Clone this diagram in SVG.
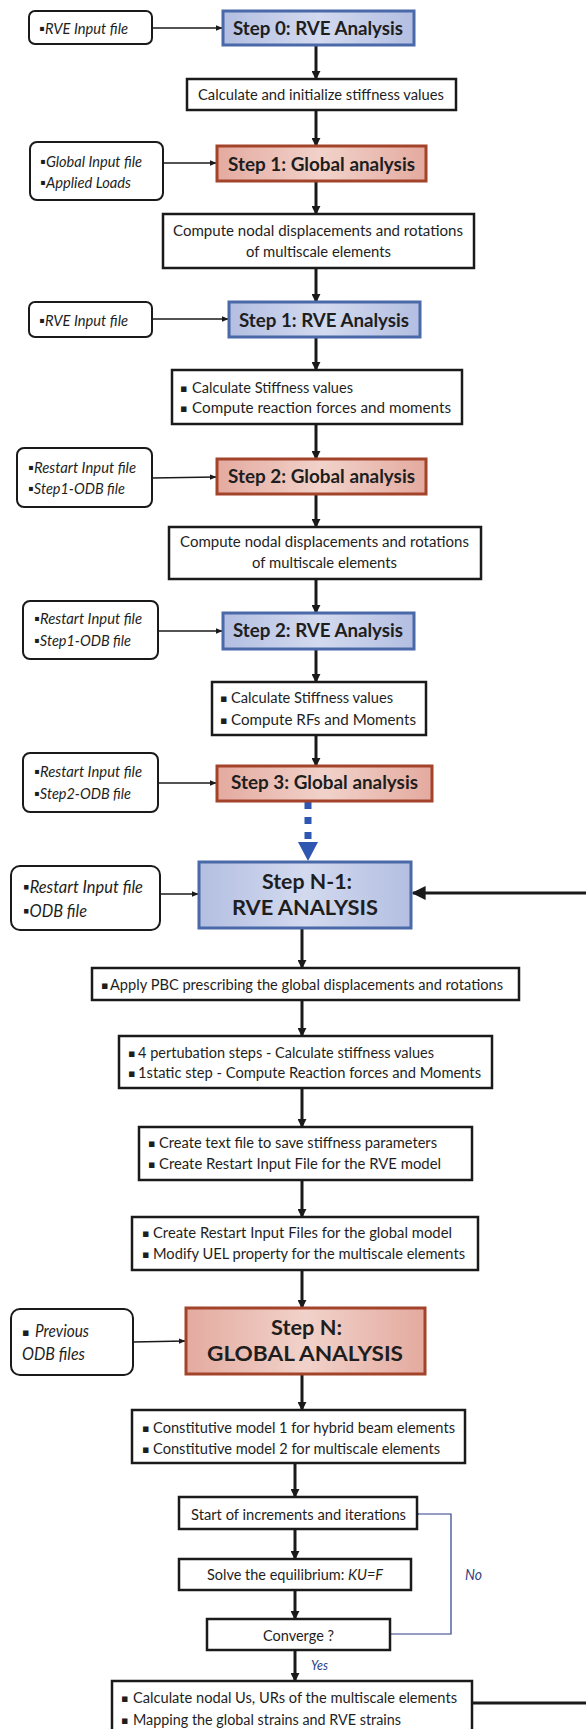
<svg xmlns="http://www.w3.org/2000/svg" width="586" height="1729" viewBox="0 0 586 1729">
<defs>
<linearGradient id="gBlue" x1="0" y1="0" x2="1" y2="0">
<stop offset="0" stop-color="#b3bee1"/><stop offset="0.5" stop-color="#d3daef"/><stop offset="1" stop-color="#b3bee1"/>
</linearGradient>
<linearGradient id="gRed" x1="0" y1="0" x2="1" y2="0">
<stop offset="0" stop-color="#e4aa9f"/><stop offset="0.5" stop-color="#f1d2ca"/><stop offset="1" stop-color="#e4aa9f"/>
</linearGradient>
<marker id="ah" viewBox="0 0 10 10" refX="9" refY="5" markerWidth="9" markerHeight="9" markerUnits="userSpaceOnUse" orient="auto">
<path d="M0,0 L10,5 L0,10 z" fill="#1a1a1a"/>
</marker>
<marker id="ahs" viewBox="0 0 10 10" refX="9" refY="5" markerWidth="7" markerHeight="7" markerUnits="userSpaceOnUse" orient="auto">
<path d="M0,1 L10,5 L0,9 z" fill="#1a1a1a"/>
</marker>
<marker id="ahb" viewBox="0 0 10 10" refX="9" refY="5" markerWidth="14" markerHeight="14" markerUnits="userSpaceOnUse" orient="auto">
<path d="M0,0 L10,5 L0,10 z" fill="#1a1a1a"/>
</marker>
<marker id="ahn" viewBox="0 0 10 10" refX="1" refY="5" markerWidth="10" markerHeight="10" markerUnits="userSpaceOnUse" orient="auto">
<path d="M10,0 L1,5 L10,10" fill="none" stroke="#2e3f85" stroke-width="1.2"/>
</marker>
</defs>
<style>
text{font-family:Lato,"Liberation Sans",sans-serif;fill:#1e1e1e}
.in{fill:#fff;stroke:#1a1a1a;stroke-width:2}
.pb{fill:#fff;stroke:#1a1a1a;stroke-width:2.5}
.sb{fill:url(#gBlue);stroke:#4a69a8;stroke-width:3}
.sr{fill:url(#gRed);stroke:#a3432a;stroke-width:3}
.it{font-style:italic;font-size:15px}
.it2{font-style:italic;font-size:17px}
.t{font-size:14.5px}
.st{font-weight:bold;font-size:19px}
.st2{font-weight:bold;font-size:21px}
.bul{font-family:"DejaVu Sans",sans-serif;font-size:11px}
.th{stroke:#1a1a1a;stroke-width:3;fill:none}
.tn{stroke:#1a1a1a;stroke-width:1.5;fill:none}
.nv{fill:#2e3f85;font-style:italic}
</style>

<g id="connectors">
<line class="th" x1="316" y1="45" x2="316" y2="79" marker-end="url(#ah)"/>
<line class="th" x1="316" y1="110" x2="316" y2="146" marker-end="url(#ah)"/>
<line class="th" x1="316" y1="181" x2="316" y2="214" marker-end="url(#ah)"/>
<line class="th" x1="316" y1="268" x2="316" y2="302" marker-end="url(#ah)"/>
<line class="th" x1="316" y1="337" x2="316" y2="370" marker-end="url(#ah)"/>
<line class="th" x1="316" y1="424" x2="316" y2="459" marker-end="url(#ah)"/>
<line class="th" x1="316" y1="494" x2="316" y2="527" marker-end="url(#ah)"/>
<line class="th" x1="316" y1="579" x2="316" y2="613" marker-end="url(#ah)"/>
<line class="th" x1="316" y1="649" x2="316" y2="682" marker-end="url(#ah)"/>
<line class="th" x1="316" y1="735" x2="316" y2="766" marker-end="url(#ah)"/>
<line x1="308" y1="802" x2="308" y2="842" stroke="#2f56b0" stroke-width="7" stroke-dasharray="7 8"/>
<polygon points="298,842 318,842 308,861" fill="#2f56b0"/>
<line class="th" x1="302" y1="928" x2="302" y2="968" marker-end="url(#ah)"/>
<line class="th" x1="302" y1="1000" x2="302" y2="1036" marker-end="url(#ah)"/>
<line class="th" x1="302" y1="1088" x2="302" y2="1127" marker-end="url(#ah)"/>
<line class="th" x1="302" y1="1180" x2="302" y2="1217" marker-end="url(#ah)"/>
<line class="th" x1="302" y1="1270" x2="302" y2="1308" marker-end="url(#ah)"/>
<line class="th" x1="302" y1="1374" x2="302" y2="1410" marker-end="url(#ah)"/>
<line class="th" x1="295" y1="1463" x2="295" y2="1497" marker-end="url(#ah)"/>
<line class="th" x1="295" y1="1529" x2="295" y2="1559" marker-end="url(#ah)"/>
<line class="th" x1="295" y1="1590" x2="295" y2="1619" marker-end="url(#ah)"/>
<line class="th" x1="295" y1="1650" x2="295" y2="1681" marker-end="url(#ah)"/>
<line class="tn" x1="152" y1="28" x2="222" y2="28" marker-end="url(#ahs)"/>
<line class="tn" x1="163" y1="163" x2="216" y2="163" marker-end="url(#ahs)"/>
<line class="tn" x1="152" y1="319" x2="228" y2="319" marker-end="url(#ahs)"/>
<line class="tn" x1="152" y1="478" x2="216" y2="477" marker-end="url(#ahs)"/>
<line class="tn" x1="158" y1="631" x2="222" y2="631" marker-end="url(#ahs)"/>
<line class="tn" x1="158" y1="783" x2="216" y2="783" marker-end="url(#ahs)"/>
<line class="tn" x1="160" y1="894" x2="198" y2="894" marker-end="url(#ahs)"/>
<line class="tn" x1="133" y1="1342" x2="185" y2="1341" marker-end="url(#ahs)"/>
<line class="th" x1="586" y1="893" x2="413" y2="893" marker-end="url(#ahb)"/>
<line class="th" x1="472" y1="1703" x2="586" y2="1703"/>
<polyline points="390,1634 451,1634 451,1514 418,1514" fill="none" stroke="#2e3f85" stroke-width="1.2" marker-end="url(#ahn)"/>
<text class="nv" x="465" y="1580" font-size="15" textLength="17" lengthAdjust="spacingAndGlyphs">No</text>
<text class="nv" x="311" y="1670" font-size="14" textLength="17" lengthAdjust="spacingAndGlyphs">Yes</text>
</g>

<g id="in1"><rect class="in" x="29" y="11" width="123" height="33" rx="6"/>
<text class="it" x="39" y="34" textLength="89" lengthAdjust="spacingAndGlyphs">▪RVE Input file</text></g>
<g id="s0"><rect class="sb" x="223" y="11" width="191" height="34"/>
<text class="st" x="233" y="35" textLength="170" lengthAdjust="spacingAndGlyphs">Step 0: RVE Analysis</text></g>
<g id="p1"><rect class="pb" x="187" y="79" width="269" height="31"/>
<text class="t" x="198" y="100" textLength="246" lengthAdjust="spacingAndGlyphs">Calculate and initialize stiffness values</text></g>

<g id="in2"><rect class="in" x="30" y="142" width="133" height="58" rx="7"/>
<text class="it" x="40" y="167" textLength="102" lengthAdjust="spacingAndGlyphs">▪Global Input file</text>
<text class="it" x="40" y="188" textLength="91" lengthAdjust="spacingAndGlyphs">▪Applied Loads</text></g>
<g id="s1g"><rect class="sr" x="217" y="146" width="209" height="35"/>
<text class="st" x="228" y="171" textLength="187" lengthAdjust="spacingAndGlyphs">Step 1: Global analysis</text></g>
<g id="p2"><rect class="pb" x="163" y="214" width="311" height="54"/>
<text class="t" x="173" y="236" textLength="290" lengthAdjust="spacingAndGlyphs">Compute nodal displacements and rotations</text>
<text class="t" x="246" y="257" textLength="145" lengthAdjust="spacingAndGlyphs">of multiscale elements</text></g>

<g id="in3"><rect class="in" x="29" y="302" width="123" height="35" rx="6"/>
<text class="it" x="39" y="326" textLength="89" lengthAdjust="spacingAndGlyphs">▪RVE Input file</text></g>
<g id="s1r"><rect class="sb" x="229" y="302" width="191" height="35"/>
<text class="st" x="239" y="327" textLength="170" lengthAdjust="spacingAndGlyphs">Step 1: RVE Analysis</text></g>
<g id="p3"><rect class="pb" x="172" y="370" width="290" height="54"/>
<text class="bul" x="180" y="392">▪</text><text class="t" x="192" y="393" textLength="161" lengthAdjust="spacingAndGlyphs">Calculate Stiffness values</text>
<text class="bul" x="180" y="412">▪</text><text class="t" x="192" y="413" textLength="259" lengthAdjust="spacingAndGlyphs">Compute reaction forces and moments</text></g>

<g id="in4"><rect class="in" x="17" y="448" width="135" height="59" rx="7"/>
<text class="it" x="28" y="473" textLength="108" lengthAdjust="spacingAndGlyphs">▪Restart Input file</text>
<text class="it" x="28" y="494" textLength="97" lengthAdjust="spacingAndGlyphs">▪Step1-ODB file</text></g>
<g id="s2g"><rect class="sr" x="217" y="459" width="209" height="35"/>
<text class="st" x="228" y="483" textLength="187" lengthAdjust="spacingAndGlyphs">Step 2: Global analysis</text></g>
<g id="p4"><rect class="pb" x="169" y="527" width="312" height="52"/>
<text class="t" x="180" y="547" textLength="289" lengthAdjust="spacingAndGlyphs">Compute nodal displacements and rotations</text>
<text class="t" x="252" y="568" textLength="145" lengthAdjust="spacingAndGlyphs">of multiscale elements</text></g>

<g id="in5"><rect class="in" x="23" y="601" width="135" height="58" rx="7"/>
<text class="it" x="34" y="624" textLength="108" lengthAdjust="spacingAndGlyphs">▪Restart Input file</text>
<text class="it" x="34" y="646" textLength="97" lengthAdjust="spacingAndGlyphs">▪Step1-ODB file</text></g>
<g id="s2r"><rect class="sb" x="223" y="613" width="191" height="36"/>
<text class="st" x="233" y="637" textLength="170" lengthAdjust="spacingAndGlyphs">Step 2: RVE Analysis</text></g>
<g id="p5"><rect class="pb" x="212" y="682" width="214" height="53"/>
<text class="bul" x="220" y="702">▪</text><text class="t" x="231" y="703" textLength="162" lengthAdjust="spacingAndGlyphs">Calculate Stiffness values</text>
<text class="bul" x="220" y="724">▪</text><text class="t" x="231" y="725" textLength="185" lengthAdjust="spacingAndGlyphs">Compute RFs and Moments</text></g>

<g id="in6"><rect class="in" x="23" y="753" width="135" height="59" rx="7"/>
<text class="it" x="34" y="777" textLength="108" lengthAdjust="spacingAndGlyphs">▪Restart Input file</text>
<text class="it" x="34" y="799" textLength="97" lengthAdjust="spacingAndGlyphs">▪Step2-ODB file</text></g>
<g id="s3g"><rect class="sr" x="217" y="766" width="215" height="35"/>
<text class="st" x="231" y="789" textLength="187" lengthAdjust="spacingAndGlyphs">Step 3: Global analysis</text></g>

<g id="in7"><rect class="in" x="11" y="866" width="149" height="64" rx="9"/>
<text class="it2" x="23" y="893" textLength="120" lengthAdjust="spacingAndGlyphs">▪Restart Input file</text>
<text class="it2" x="23" y="917" textLength="64" lengthAdjust="spacingAndGlyphs">▪ODB file</text></g>
<g id="sn1"><rect class="sb" x="199" y="862" width="212" height="66"/>
<text class="st2" x="262" y="889" textLength="90" lengthAdjust="spacingAndGlyphs">Step N-1:</text>
<text class="st2" x="232" y="915" textLength="146" lengthAdjust="spacingAndGlyphs">RVE ANALYSIS</text></g>
<g id="p6"><rect class="pb" x="92" y="968" width="427" height="32"/>
<text class="bul" x="101" y="989">▪</text><text class="t" x="110" y="990" textLength="393" lengthAdjust="spacingAndGlyphs">Apply PBC prescribing the global displacements and rotations</text></g>
<g id="p7"><rect class="pb" x="119" y="1036" width="373" height="52"/>
<text class="bul" x="128" y="1057">▪</text><text class="t" x="138" y="1058" textLength="296" lengthAdjust="spacingAndGlyphs">4 pertubation steps - Calculate stiffness values</text>
<text class="bul" x="128" y="1077">▪</text><text class="t" x="138" y="1078" textLength="343" lengthAdjust="spacingAndGlyphs">1static step - Compute Reaction forces and Moments</text></g>
<g id="p8"><rect class="pb" x="139" y="1127" width="333" height="53"/>
<text class="bul" x="148" y="1147">▪</text><text class="t" x="159" y="1148" textLength="278" lengthAdjust="spacingAndGlyphs">Create text file to save stiffness parameters</text>
<text class="bul" x="148" y="1168">▪</text><text class="t" x="159" y="1169" textLength="282" lengthAdjust="spacingAndGlyphs">Create Restart Input File for the RVE model</text></g>
<g id="p9"><rect class="pb" x="132" y="1217" width="346" height="53"/>
<text class="bul" x="142" y="1237">▪</text><text class="t" x="153" y="1238" textLength="299" lengthAdjust="spacingAndGlyphs">Create Restart Input Files for the global model</text>
<text class="bul" x="142" y="1258">▪</text><text class="t" x="153" y="1259" textLength="312" lengthAdjust="spacingAndGlyphs">Modify UEL property for the multiscale elements</text></g>

<g id="in8"><rect class="in" x="11" y="1309" width="122" height="66" rx="9"/>
<text class="bul" x="22" y="1336" font-size="12">▪</text><text class="it2" x="35" y="1337" textLength="54" lengthAdjust="spacingAndGlyphs">Previous</text>
<text class="it2" x="22" y="1360" textLength="63" lengthAdjust="spacingAndGlyphs">ODB files</text></g>
<g id="sn"><rect class="sr" x="186" y="1308" width="239" height="66"/>
<text class="st2" x="271" y="1335" textLength="71" lengthAdjust="spacingAndGlyphs">Step N:</text>
<text class="st2" x="207" y="1361" textLength="196" lengthAdjust="spacingAndGlyphs">GLOBAL ANALYSIS</text></g>
<g id="p10"><rect class="pb" x="132" y="1410" width="333" height="53"/>
<text class="bul" x="142" y="1432">▪</text><text class="t" x="153" y="1433" textLength="302" lengthAdjust="spacingAndGlyphs">Constitutive model 1 for hybrid beam elements</text>
<text class="bul" x="142" y="1453">▪</text><text class="t" x="153" y="1454" textLength="287" lengthAdjust="spacingAndGlyphs">Constitutive model 2 for multiscale elements</text></g>
<g id="p11"><rect class="pb" x="179" y="1497" width="238" height="32"/>
<text class="t" x="191" y="1520" textLength="215" lengthAdjust="spacingAndGlyphs">Start of increments and iterations</text></g>
<g id="p12"><rect class="pb" x="179" y="1559" width="232" height="31"/>
<text class="t" x="207" y="1580" textLength="176" lengthAdjust="spacingAndGlyphs">Solve the equilibrium: <tspan font-style="italic">KU=F</tspan></text></g>
<g id="p13"><rect class="pb" x="207" y="1619" width="183" height="31"/>
<text class="t" x="263" y="1641" textLength="71" lengthAdjust="spacingAndGlyphs">Converge ?</text></g>
<g id="p14"><rect class="pb" x="112" y="1681" width="360" height="60"/>
<text class="bul" x="121" y="1702">▪</text><text class="t" x="133" y="1703" textLength="324" lengthAdjust="spacingAndGlyphs">Calculate nodal Us, URs of the multiscale elements</text>
<text class="bul" x="121" y="1724">▪</text><text class="t" x="133" y="1725" textLength="268" lengthAdjust="spacingAndGlyphs">Mapping the global strains and RVE strains</text></g>
</svg>
